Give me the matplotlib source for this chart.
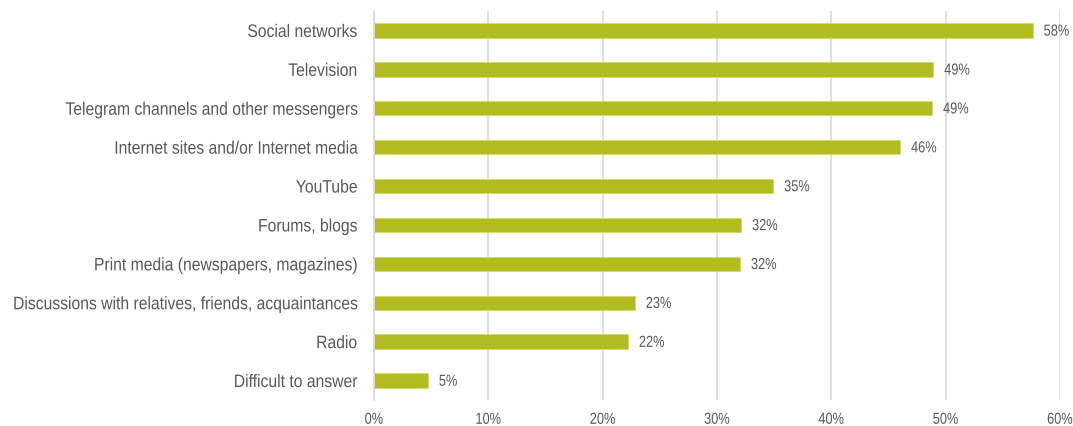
import matplotlib
matplotlib.use("Agg")
import matplotlib.pyplot as plt
from matplotlib.patheffects import AbstractPathEffect
from matplotlib.transforms import Affine2D

categories = [
    "Social networks",
    "Television",
    "Telegram channels and other messengers",
    "Internet sites and/or Internet media",
    "YouTube",
    "Forums, blogs",
    "Print media (newspapers, magazines)",
    "Discussions with relatives, friends, acquaintances",
    "Radio",
    "Difficult to answer",
]
shares = [57.6, 48.9, 48.8, 46.0, 34.9, 32.1, 32.0, 22.8, 22.2, 4.7]
x_ticks = [0, 10, 20, 30, 40, 50, 60]

plt.rcParams["font.family"] = ["Liberation Sans", "DejaVu Sans"]


class Condense(AbstractPathEffect):
    """Squeeze text glyphs horizontally, keeping the chosen edge in place."""

    def __init__(self, factor, align="left"):
        super().__init__()
        self.factor = factor
        self.align = align

    def draw_path(self, renderer, gc, tpath, affine, rgbFace=None):
        width = tpath.get_extents().x1 if len(tpath.vertices) else 0.0
        shift = {"left": 0.0, "center": 0.5, "right": 1.0}[self.align]
        squeeze = Affine2D().scale(self.factor, 1.0).translate((1 - self.factor) * width * shift, 0)
        renderer.draw_path(gc, tpath, squeeze + affine, rgbFace)


text_color = "#595959"
bar_color = "#B3BC1F"
grid_color = "#D9D9D9"

fig = plt.figure(figsize=(10.73, 4.26), dpi=100)
ax = fig.add_axes([374 / 1073, 1 - 400 / 426, (1060 - 374) / 1073, (400 - 11) / 426])

pos = list(range(len(categories)))
ax.barh(pos, shares, height=0.37, color=bar_color, edgecolor="#D3D86C", linewidth=0.6, zorder=3)

for p, v in zip(pos, shares):
    ax.annotate(f"{v:.0f}%", xy=(v, p), xytext=(8, -0.5), textcoords="offset points",
                va="center", ha="left", fontsize=11.5, color=text_color,
                path_effects=[Condense(0.8, "left")])

ax.set_ylim(len(categories) - 0.5, -0.5)
ax.set_xlim(0, 60)
ax.set_yticks(pos)
ax.set_yticklabels(categories, fontsize=13, color=text_color)
ax.set_xticks(x_ticks)
ax.set_xticklabels([f"{t}%" for t in x_ticks], fontsize=11.5, color=text_color)
ax.tick_params(axis="both", length=0)
ax.tick_params(axis="y", pad=12)
ax.tick_params(axis="x", pad=8.5)

for lbl in ax.get_yticklabels():
    lbl.set_path_effects([Condense(0.87, "right")])
for lbl in ax.get_xticklabels():
    lbl.set_path_effects([Condense(0.8, "center")])

ax.grid(axis="x", color=grid_color, linewidth=1.2, zorder=0)
ax.grid(axis="y", visible=False)
for s in ["top", "right", "bottom"]:
    ax.spines[s].set_visible(False)
ax.spines["left"].set_color(grid_color)
ax.spines["left"].set_linewidth(1.2)
ax.spines["left"].set_zorder(4)

fig.savefig("out.png", dpi=100)
